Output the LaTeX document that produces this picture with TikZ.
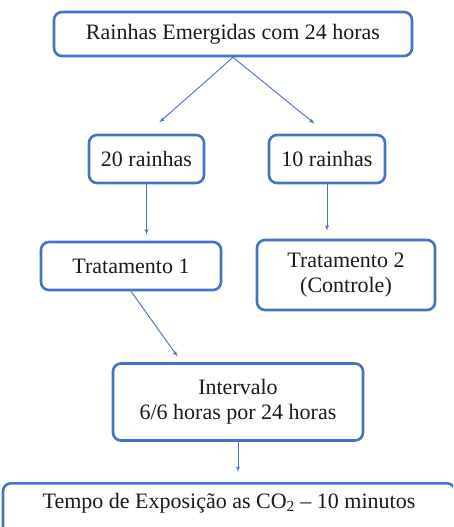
\documentclass[tikz,border=0pt]{standalone}
\usepackage{fontspec}
\setmainfont{Liberation Serif}
\usepackage{tikz}
\usetikzlibrary{arrows}
\usetikzlibrary{positioning}
\definecolor{boxblue}{HTML}{4472C4}
\definecolor{textgray}{HTML}{1A1A1A}
\tikzset{box/.style = {draw=boxblue, line width=2.6pt, rounded corners=8pt,
                       fill=white, align=center, text=textgray,
                       font=\fontsize{22}{25}\selectfont},
         flow/.style = {draw=boxblue, line width=0.9pt, -latex'}}

\begin{document}
\begin{tikzpicture}[x=1pt, y=-1pt]
    \useasboundingbox (0, 0) rectangle (453, 527);
    \clip (0, 0) rectangle (453, 527);

    \node (top) [box, minimum width=358pt, minimum height=44pt] at (233, 34) {Rainhas Emergidas com 24 horas};
    \node (r20) [box, minimum width=115pt, minimum height=48pt] at (146.5, 159) {20 rainhas};
    \node (r10) [box, minimum width=116pt, minimum height=48pt] at (327, 159) {10 rainhas};
    \node (trat1) [box, minimum width=180pt, minimum height=48pt] at (131, 266) {Tratamento 1};
    \node (trat2) [box, minimum width=178pt, minimum height=70pt] at (346, 275) {Tratamento 2\\(Controle)};
    \node (interv) [box, minimum width=250pt, minimum height=77pt] at (238, 402) {Intervalo\\6/6 horas por 24 horas};
    \node (expo) [box, minimum width=452pt, text height=20pt, text depth=28pt, inner ysep=5pt, anchor=north]
        at (229, 482) {Tempo de Exposição as CO\textsubscript{2} – 10 minutos};

    \draw [flow, shorten >=17pt] (top.south) -- (r20.north);
    \draw [flow, shorten >=16pt] (top.south) -- (r10.north);
    \draw [flow, shorten >=6pt] (r20.south) -- (r20.south |- trat1.north);
    \draw [flow, shorten >=8pt] (r10.south) -- (r10.south |- trat2.north);
    \draw [flow, shorten >=7pt] (trat1.south) -- ([xshift=70pt]interv.north west);
    \draw [flow, shorten >=10pt] (interv.south) -- (interv.south |- expo.north);
  \end{tikzpicture}
\end{document}
